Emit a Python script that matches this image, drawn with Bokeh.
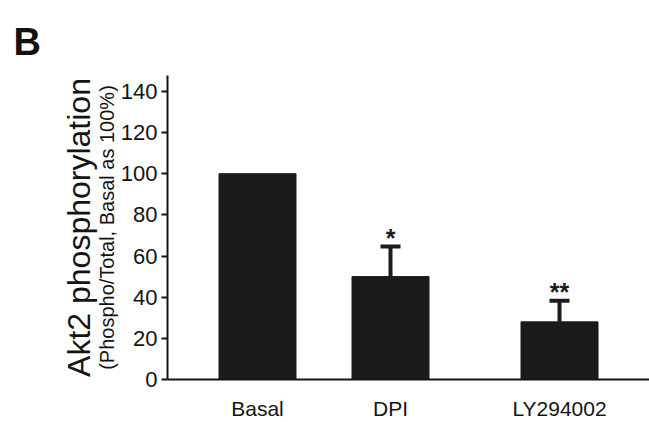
from bokeh.plotting import figure
from bokeh.models import (Range1d, FixedTicker, Title, Whisker, TeeHead,
                          ColumnDataSource)
from bokeh.core.properties import value
from bokeh.embed import file_html
from bokeh.resources import INLINE

# ---- data ----
categories = ["Basal", "DPI", "LY294002"]
means = [100.0, 50.0, 28.0]
errors = [0.0, 14.6, 10.3]
stars = ["", "*", "**"]
y_ticks = [0, 20, 40, 60, 80, 100, 120, 140]

# ---- layout (positions of categories along the numeric x axis) ----
x_pos = [0.90, 2.23, 3.92]
bar_width = 0.77

FONT = "Liberation Sans"
INK = "#141414"

p = figure(width=649, height=422, output_backend="svg", toolbar_location=None,
           x_range=Range1d(0, 4.82), y_range=Range1d(0, 147.7),
           min_border_left=167, min_border_right=0, min_border_top=75,
           min_border_bottom=42)
p.outline_line_color = None
p.xgrid.grid_line_color = None
p.ygrid.grid_line_color = None
p.background_fill_color = "white"
p.border_fill_color = "white"

src = ColumnDataSource(dict(x=x_pos, top=means, cat=categories))
p.vbar(x="x", top="top", width=bar_width, bottom=0, source=src,
       fill_color="#1b1b1b", line_color="#1b1b1b")

# error bars (upper only)
ex = [x for x, e in zip(x_pos, errors) if e > 0]
em = [m for m, e in zip(means, errors) if e > 0]
eu = [m + e for m, e in zip(means, errors) if e > 0]
esrc = ColumnDataSource(dict(base=ex, lower=em, upper=eu))
p.add_layout(Whisker(base="base", lower="lower", upper="upper", source=esrc,
                     dimension="height", line_width=4, line_color="#1b1b1b",
                     upper_head=TeeHead(size=20, line_width=4, line_color="#1b1b1b"),
                     lower_head=None))

# significance stars
sx = [x for x, s in zip(x_pos, stars) if s]
sy = [m + e for m, e, s in zip(means, errors, stars) if s]
st = [s for s in stars if s]
p.text(x=sx, y=sy, text=st, text_align="center", text_baseline="alphabetic",
       y_offset=-9, text_font=value(FONT), text_font_style="bold",
       text_font_size="25px", text_color="#1b1b1b")

# axes
p.xaxis.ticker = FixedTicker(ticks=x_pos)
p.xaxis.major_label_overrides = {x: c for x, c in zip(x_pos, categories)}
p.xaxis.major_tick_line_color = None
p.xaxis.minor_tick_line_color = None
p.xaxis.axis_line_width = 2
p.xaxis.axis_line_color = INK
p.xaxis.major_label_text_font = FONT
p.xaxis.major_label_text_font_size = "21px"
p.xaxis.major_label_text_color = INK
p.xaxis.major_label_standoff = 11

p.yaxis.ticker = FixedTicker(ticks=y_ticks)
p.yaxis.minor_tick_line_color = None
p.yaxis.major_tick_in = 0
p.yaxis.major_tick_out = 6
p.yaxis.major_tick_line_width = 2
p.yaxis.major_tick_line_color = INK
p.yaxis.axis_line_width = 2
p.yaxis.axis_line_color = INK
p.yaxis.major_label_text_font = FONT
p.yaxis.major_label_text_font_size = "22px"
p.yaxis.major_label_text_color = INK
p.yaxis.major_label_standoff = 4

# y-axis titles (two lines, different sizes)
p.add_layout(Title(text="(Phospho/Total, Basal as 100%)", align="center",
                   text_font=FONT, text_font_size="20px", text_font_style="normal",
                   text_color=INK, standoff=0), "left")
p.add_layout(Title(text="Akt2 phosphorylation", align="center",
                   text_font=FONT, text_font_size="32px", text_font_style="normal",
                   text_color=INK, standoff=-6), "left")

# panel letter
p.add_layout(Title(text="B", align="left", offset=-154, text_font=FONT,
                   text_font_size="38px", text_font_style="bold",
                   text_color="#111111", standoff=26), "above")

open("out.html", "w").write(file_html(p, INLINE))
